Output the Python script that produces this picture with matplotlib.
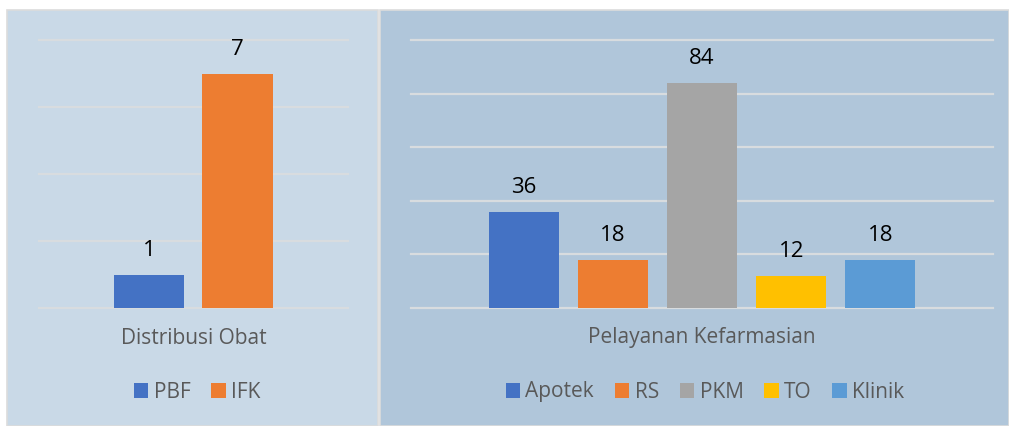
import matplotlib
matplotlib.use("Agg")
import matplotlib.pyplot as plt
from matplotlib.patches import Rectangle, Patch

plt.rcParams['font.family'] = ['Open Sans', 'DejaVu Sans']

# Data
left_category = "Distribusi Obat"
left_series = ["PBF", "IFK"]
left_values = [1, 7]
left_colors = ["#4472c4", "#ed7d31"]

right_category = "Pelayanan Kefarmasian"
right_series = ["Apotek", "RS", "PKM", "TO", "Klinik"]
right_values = [36, 18, 84, 12, 18]
right_colors = ["#4472c4", "#ed7d31", "#a5a5a5", "#ffc000", "#5b9bd5"]

W, H = 1009, 426
fig = plt.figure(figsize=(W / 100, H / 100), dpi=100)
fig.patch.set_facecolor("white")

def fx(px):
    return px / W

def fy(py):
    return 1 - py / H

# panel backgrounds
bg = fig.add_axes([0, 0, 1, 1], zorder=-5)
bg.set_xlim(0, W)
bg.set_ylim(H, 0)
bg.axis("off")
bg.add_patch(Rectangle((7, 10), 371, 416, facecolor="#c9d9e7", edgecolor="#dcdcdc", linewidth=1.2))
bg.add_patch(Rectangle((380, 10), 629, 416, facecolor="#b0c6da", edgecolor="#dcdcdc", linewidth=1.2))

GRID = "#d8dcdf"
TXT = "#595959"


def panel(x0, x1, values, colors, names, ymax, step, bw_px, gap_px, category, leg_cx):
    ax = fig.add_axes([fx(x0), fy(308), fx(x1 - x0), (308 - 40) / H], zorder=1)
    ax.set_facecolor("none")
    width_px = x1 - x0
    bw = bw_px / width_px
    stepx = (bw_px + gap_px) / width_px
    n = len(values)
    xs = [(i - (n - 1) / 2) * stepx for i in range(n)]
    ax.set_xlim(-0.5, 0.5)
    ax.set_ylim(0, ymax)
    for y in range(0, ymax + 1, step):
        ax.axhline(y, color=GRID, linewidth=1.6, zorder=1, clip_on=False)
    ax.bar(xs, values, width=bw, color=colors, zorder=2)
    for x, v in zip(xs, values):
        ax.annotate(str(v), (x, v), xytext=(0, 13.5), textcoords="offset points",
                    ha="center", va="baseline", fontsize=16, color="black")
    for s in ax.spines.values():
        s.set_visible(False)
    ax.set_xticks([])
    ax.set_yticks([])
    fig.text(fx((x0 + x1) / 2), fy(338), category, ha="center", va="center",
             fontsize=15, color=TXT)
    handles = [Patch(facecolor=c, edgecolor="none") for c in colors]
    fig.legend(handles, names, loc="center", bbox_to_anchor=(fx(leg_cx), fy(392)),
               ncol=n, frameon=False, fontsize=15, labelcolor=TXT,
               handlelength=0.7, handleheight=0.7, handletextpad=0.25,
               columnspacing=1.0, borderpad=0)
    return ax

panel(39, 348, left_values, left_colors, left_series, 8, 2, 70, 18, left_category, 197)
panel(411, 993, right_values, right_colors, right_series, 100, 20, 70, 19.2, right_category, 705)

fig.savefig("out.png", dpi=100)
